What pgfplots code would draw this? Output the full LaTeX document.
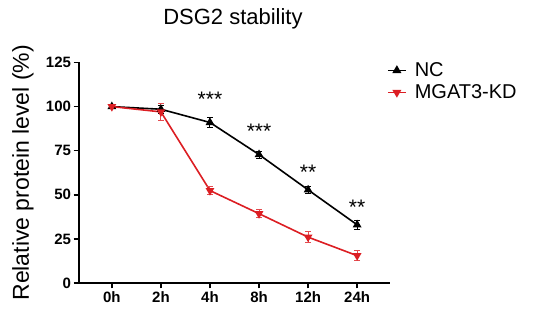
\documentclass[border=0pt]{standalone}
\usepackage{pgfplots}
\pgfplotsset{compat=1.18}
\usepackage{fontspec}
\setmainfont{Liberation Sans}
\definecolor{kdred}{RGB}{220,30,35}
\begin{document}
\begin{tikzpicture}[x=1pt,y=1pt]
\useasboundingbox (0,0) rectangle (560,320);
\begin{axis}[
  at={(79pt,37pt)}, anchor=south west,
  scale only axis, width=311pt, height=220.5pt,
  xmin=-0.67, xmax=5.67, ymin=0, ymax=125,
  axis lines=left, axis line style={line width=1.6pt,-},
  xtick={0,1,2,3,4,5}, xticklabels={0h,2h,4h,8h,12h,24h},
  ytick={0,25,50,75,100,125},
  tick style={line width=1.6pt, black}, major tick length=5.5pt,
  tick align=outside,
  tick label style={font=\fontsize{15}{17}\selectfont\bfseries},
  yticklabel style={xshift=1pt},
  /pgf/number format/assume math mode=true,
  ylabel={Relative protein level (\%)},
  ylabel style={font=\fontsize{23}{25}\selectfont, at={(axis description cs:-0.18,0.5)}, anchor=center},
  title={DSG2 stability},
  title style={font=\fontsize{22}{25}\selectfont, at={(axis description cs:0.495,1.17)}, anchor=center},
  legend style={draw=none, fill=none, at={(0.98,1.018)}, anchor=north west,
     font=\fontsize{20}{22}\selectfont, row sep=2.5pt,
     /tikz/every odd column/.append style={column sep=6pt}},
  legend cell align=left,
  clip=false,
]
\addplot+[black, line width=1.6pt, mark=triangle*, mark size=3.5pt, mark options={solid, fill=black},
  legend image code/.code={\draw[black, line width=1.8pt, mark=triangle*, mark size=3.5pt, mark options={solid, fill=black}, mark repeat=2, mark phase=2] plot coordinates {(0pt,0pt) (9pt,0pt) (18pt,0pt)};},
  error bars/.cd, y dir=both, y explicit, error bar style={line width=1pt, black}, error mark options={rotate=90, mark size=3pt, line width=1pt}]
  coordinates {
  (0,100) +- (0,1.2)
  (1,98.5) +- (0,2.2)
  (2,91) +- (0,2.8)
  (3,72.8) +- (0,2)
  (4,52.8) +- (0,2)
  (5,33) +- (0,2.6)
  };
\addlegendentry{NC}
\addplot+[kdred, line width=1.6pt, mark=triangle*, mark size=3.5pt, mark options={solid, fill=kdred, rotate=180},
  legend image code/.code={\draw[kdred, line width=1.8pt, mark=triangle*, mark size=3.5pt, mark options={solid, fill=kdred, rotate=180}, mark repeat=2, mark phase=2] plot coordinates {(0pt,0pt) (9pt,0pt) (18pt,0pt)};},
  error bars/.cd, y dir=both, y explicit, error bar style={line width=1pt, kdred!80}, error mark options={rotate=90, mark size=3pt, line width=1pt}]
  coordinates {
  (0,100) +- (0,1.2)
  (1,97) +- (0,4.9)
  (2,52.4) +- (0,2.4)
  (3,39.3) +- (0,2.4)
  (4,26) +- (0,3.3)
  (5,15.5) +- (0,2.7)
  };
\addlegendentry{MGAT3-KD}
\node[font=\fontsize{21}{23}\selectfont] at (axis cs:2,104) {***};
\node[font=\fontsize{21}{23}\selectfont] at (axis cs:3,86) {***};
\node[font=\fontsize{21}{23}\selectfont] at (axis cs:4,63) {**};
\node[font=\fontsize{21}{23}\selectfont] at (axis cs:5,43) {**};
\end{axis}
\end{tikzpicture}
\end{document}
